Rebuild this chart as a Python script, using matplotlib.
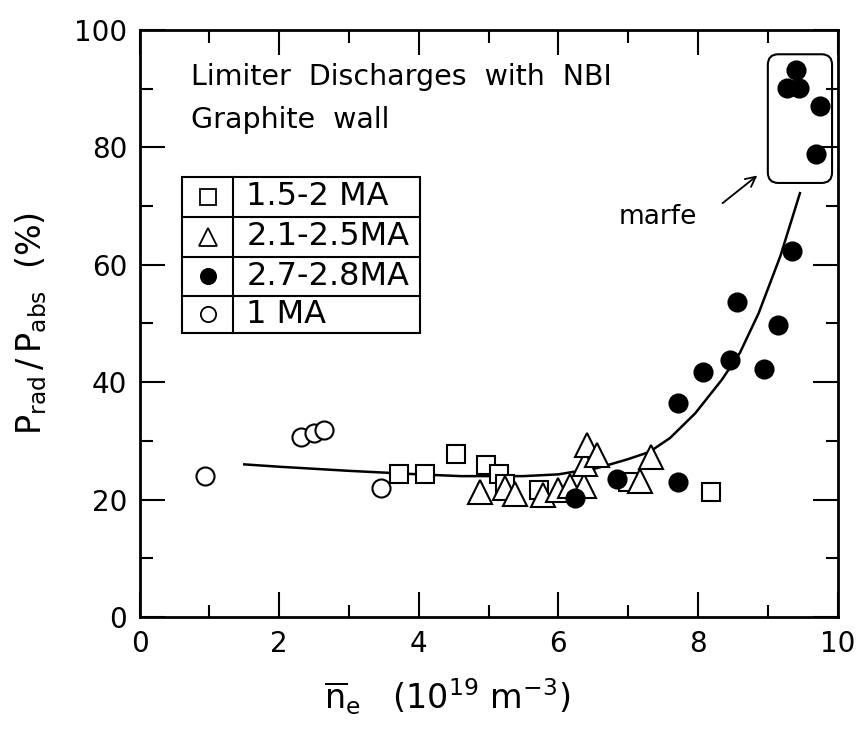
import matplotlib
matplotlib.use("Agg")
import matplotlib.pyplot as plt
from matplotlib.patches import FancyBboxPatch, Rectangle
from matplotlib.lines import Line2D

FAM = ['DejaVu Sans Condensed', 'Liberation Sans Narrow', 'DejaVu Sans']
plt.rcParams['font.family'] = FAM
plt.rcParams['mathtext.fontset'] = 'custom'
plt.rcParams['mathtext.rm'] = 'Liberation Sans Narrow'
plt.rcParams['mathtext.it'] = 'Liberation Sans Narrow'
plt.rcParams['mathtext.default'] = 'regular'

# ---- data ----
sq_x = [3.72, 4.09, 4.54, 4.96, 5.15, 5.23, 5.72, 7.00, 8.18]
sq_y = [24.3, 24.3, 27.7, 25.9, 24.4, 22.7, 21.6, 23.0, 21.3]

tri_x = [4.87, 5.23, 5.38, 5.78, 6.00, 6.17, 6.36, 6.38, 6.41, 6.55, 7.17, 7.33]
tri_y = [21.3, 21.9, 21.0, 20.7, 21.6, 22.4, 22.4, 26.1, 29.3, 27.6, 23.1, 27.2]

fc_x = [6.24, 6.84, 7.72, 7.71, 8.07, 8.46, 8.94, 8.56, 9.15, 9.35, 9.40, 9.27, 9.44, 9.75, 9.69]
fc_y = [20.2, 23.5, 23.0, 36.4, 41.8, 43.8, 42.2, 53.6, 49.7, 62.4, 93.2, 90.2, 90.2, 87.0, 78.8]

oc_x = [0.94, 2.31, 2.50, 2.64, 3.46]
oc_y = [24.0, 30.6, 31.3, 31.8, 22.0]

fit_x = [1.5, 2.0, 3.0, 4.0, 4.6, 5.0, 5.5, 6.0, 6.2, 6.5, 6.8, 7.0, 7.3, 7.6, 7.96, 8.34, 8.6, 8.87, 9.18, 9.46]
fit_y = [26.0, 25.6, 24.9, 24.3, 24.0, 24.0, 24.0, 24.3, 24.7, 25.2, 26.2, 26.9, 28.1, 30.5, 34.7, 40.4, 45.0, 51.8, 61.5, 72.2]

legend_labels = ['1.5-2 MA', '2.1-2.5MA', '2.7-2.8MA', '1 MA']
xticks = [0, 2, 4, 6, 8, 10]
yticks = [0, 20, 40, 60, 80, 100]

fig = plt.figure(figsize=(8.64, 7.40), dpi=100)
ax = fig.add_axes([0.1615, 0.1662, 0.808, 0.7933])
ax.set_xlim(0, 10)
ax.set_ylim(0, 100)

for s in ax.spines.values():
    s.set_linewidth(2.0)

ax.set_xticks(xticks)
ax.set_yticks(yticks)
ax.set_xticks([1, 3, 5, 7, 9], minor=True)
ax.set_yticks([10, 30, 50, 70, 90], minor=True)
ax.tick_params(which='both', direction='in', top=True, right=True, width=1.5, colors='black')
ax.tick_params(which='major', length=18, labelsize=20, pad=9)
ax.tick_params(which='minor', length=9)

ms = 13
ax.plot(fit_x, fit_y, color='black', lw=1.8, zorder=2)
ax.plot(oc_x, oc_y, 'o', ms=ms, mfc='white', mec='black', mew=1.5, zorder=3)
ax.plot(sq_x, sq_y, 's', ms=ms, mfc='white', mec='black', mew=1.5, zorder=3)
ax.plot(tri_x, tri_y, '^', ms=ms + 4, mfc='white', mec='black', mew=1.5, zorder=3)
ax.plot(fc_x, fc_y, 'o', ms=ms, mfc='black', mec='black', mew=1.5, zorder=4)

# title text
ax.text(0.74, 92.0, 'Limiter  Discharges  with  NBI', fontsize=20.5, ha='left', va='center')
ax.text(0.74, 84.7, 'Graphite  wall', fontsize=20.5, ha='left', va='center')

# legend table
L, R, D = 0.61, 4.02, 1.34
rows = [75.0, 68.2, 61.4, 54.7, 48.4]
ax.add_patch(Rectangle((L, rows[-1]), R - L, rows[0] - rows[-1], fill=False, lw=1.5, ec='black', zorder=5))
ax.add_line(Line2D([D, D], [rows[-1], rows[0]], color='black', lw=1.5, zorder=5))
for r in rows[1:-1]:
    ax.add_line(Line2D([L, R], [r, r], color='black', lw=1.5, zorder=5))
mk = [('s', 'white', 11), ('^', 'white', 13), ('o', 'black', 11), ('o', 'white', 11)]
for i, lab in enumerate(legend_labels):
    yc = (rows[i] + rows[i + 1]) / 2
    m, fcol, s = mk[i]
    ax.plot([(L + D) / 2], [yc], m, ms=s, mfc=fcol, mec='black', mew=1.3, zorder=6)
    ax.text(1.53, yc, lab, fontsize=23, ha='left', va='center', zorder=6)

# marfe box and annotation
ax.add_patch(FancyBboxPatch((9.08, 74.9), 0.76, 20.0,
                            boxstyle='round,pad=0.08,rounding_size=0.15',
                            fill=False, ec='black', lw=1.5, mutation_aspect=12, zorder=5))
ax.annotate('', xy=(8.88, 75.5), xytext=(8.32, 70.2),
            arrowprops=dict(arrowstyle='->', color='black', lw=1.3, mutation_scale=18))
ax.text(7.43, 68.1, 'marfe', fontsize=19, ha='center', va='center')

ax.set_ylabel(r'$P_{rad}\,/\,P_{abs}$  (%)', fontsize=24, labelpad=18)
ax.set_xlabel(r'$\overline{n}_e$   $(10^{19}\ m^{-3})$', fontsize=24, labelpad=14, x=0.44)

fig.savefig('out.png', dpi=100, facecolor='white')
